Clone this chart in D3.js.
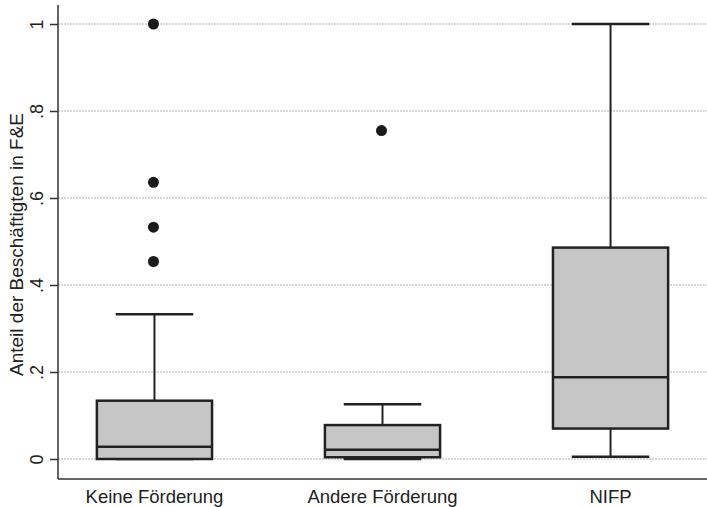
<!DOCTYPE html>
<html>
<head>
<meta charset="utf-8">
<script src="https://cdn.jsdelivr.net/npm/d3@7"></script>
<style>
  html, body { margin: 0; padding: 0; background: #fff; }
  svg { display: block; }
  text { font-family: "Liberation Sans", Arial, Helvetica, sans-serif; fill: #222; }
</style>
</head>
<body>
<svg id="chart" width="707" height="507"></svg>
<script>
// Box plot: share of R&D staff by funding group
const categories = ["Keine Förderung", "Andere Förderung", "NIFP"];
const whiskerLow  = [0.0,   0.0,   0.005];
const q1          = [0.0,   0.004, 0.07];
const median      = [0.028, 0.021, 0.188];
const q3          = [0.134, 0.078, 0.486];
const whiskerHigh = [0.333, 0.126, 1.0];
const outliers    = [[1.0, 0.636, 0.533, 0.454], [0.755], []];
const yTicks      = [0, 0.2, 0.4, 0.6, 0.8, 1];
const yTickLabels = ["0", ".2", ".4", ".6", ".8", "1"];
const yTitle = "Anteil der Beschäftigten in F&E";

const plotLeft = 58, plotRight = 707, plotTop = 24, plotBottom = 459, axisY = 479;

const svg = d3.select("#chart");

const x = d3.scalePoint().domain(categories).range([plotLeft, plotRight]).padding(0.423);
const y = d3.scaleLinear().domain([0, 1]).range([plotBottom, plotTop]);
const step = x.step();
const boxW = step * 0.505;
const capW = step * 0.34;

// Grid lines
svg.append("g").selectAll("line").data(yTicks).join("line")
  .attr("x1", plotLeft).attr("x2", plotRight)
  .attr("y1", d => y(d)).attr("y2", d => y(d))
  .attr("stroke", "#b4b4b4").attr("stroke-width", 1.2)
  .attr("stroke-dasharray", "2,1");

// Y axis
const yAxis = d3.axisLeft(y).tickValues(yTicks)
  .tickFormat((d, i) => yTickLabels[i]).tickSize(8).tickPadding(0);
const gy = svg.append("g").attr("transform", `translate(${plotLeft},0)`).call(yAxis);
gy.select(".domain").remove();
gy.selectAll(".tick line").attr("stroke", "#333").attr("stroke-width", 1.5);
gy.selectAll(".tick text")
  .attr("x", null).attr("dy", null)
  .attr("transform", "translate(-15,0) rotate(-90)")
  .attr("text-anchor", "middle")
  .style("font-size", "18px")
  .style("font-family", "'Liberation Sans', Arial, sans-serif")
  .attr("fill", "#222");
svg.append("line")
  .attr("x1", plotLeft).attr("x2", plotLeft).attr("y1", 5).attr("y2", axisY)
  .attr("stroke", "#333").attr("stroke-width", 1.5);

// X axis baseline and category labels
svg.append("line")
  .attr("x1", plotLeft).attr("x2", plotRight).attr("y1", axisY).attr("y2", axisY)
  .attr("stroke", "#333").attr("stroke-width", 1.5);
svg.append("g").selectAll("text").data(categories).join("text")
  .attr("x", d => x(d)).attr("y", 503)
  .attr("text-anchor", "middle")
  .style("font-size", "18.5px")
  .text(d => d);

// Y axis title
svg.append("text")
  .attr("transform", `translate(23,${(plotTop + plotBottom) / 2 + 3}) rotate(-90)`)
  .attr("text-anchor", "middle")
  .style("font-size", "19px")
  .text(yTitle);

// Boxes
const stroke = "#222";
const g = svg.append("g");
categories.forEach((c, i) => {
  const cx = x(c);
  // whiskers
  g.append("line").attr("x1", cx).attr("x2", cx)
    .attr("y1", y(q3[i])).attr("y2", y(whiskerHigh[i]))
    .attr("stroke", stroke).attr("stroke-width", 2);
  g.append("line").attr("x1", cx).attr("x2", cx)
    .attr("y1", y(q1[i])).attr("y2", y(whiskerLow[i]))
    .attr("stroke", stroke).attr("stroke-width", 2);
  g.append("line").attr("x1", cx - capW / 2).attr("x2", cx + capW / 2)
    .attr("y1", y(whiskerHigh[i])).attr("y2", y(whiskerHigh[i]))
    .attr("stroke", stroke).attr("stroke-width", 2.5);
  g.append("line").attr("x1", cx - capW / 2).attr("x2", cx + capW / 2)
    .attr("y1", y(whiskerLow[i])).attr("y2", y(whiskerLow[i]))
    .attr("stroke", stroke).attr("stroke-width", 2.5);
  // box
  g.append("rect")
    .attr("x", cx - boxW / 2).attr("width", boxW)
    .attr("y", y(q3[i])).attr("height", y(q1[i]) - y(q3[i]))
    .attr("fill", "#c6c6c6").attr("stroke", stroke).attr("stroke-width", 2.5);
  // median
  g.append("line").attr("x1", cx - boxW / 2).attr("x2", cx + boxW / 2)
    .attr("y1", y(median[i])).attr("y2", y(median[i]))
    .attr("stroke", stroke).attr("stroke-width", 2.5);
  // outliers
  g.selectAll(null).data(outliers[i]).join("circle")
    .attr("cx", cx - 1).attr("cy", d => y(d)).attr("r", 5.5)
    .attr("fill", "#1a1a1a");
});
</script>
</body>
</html>
